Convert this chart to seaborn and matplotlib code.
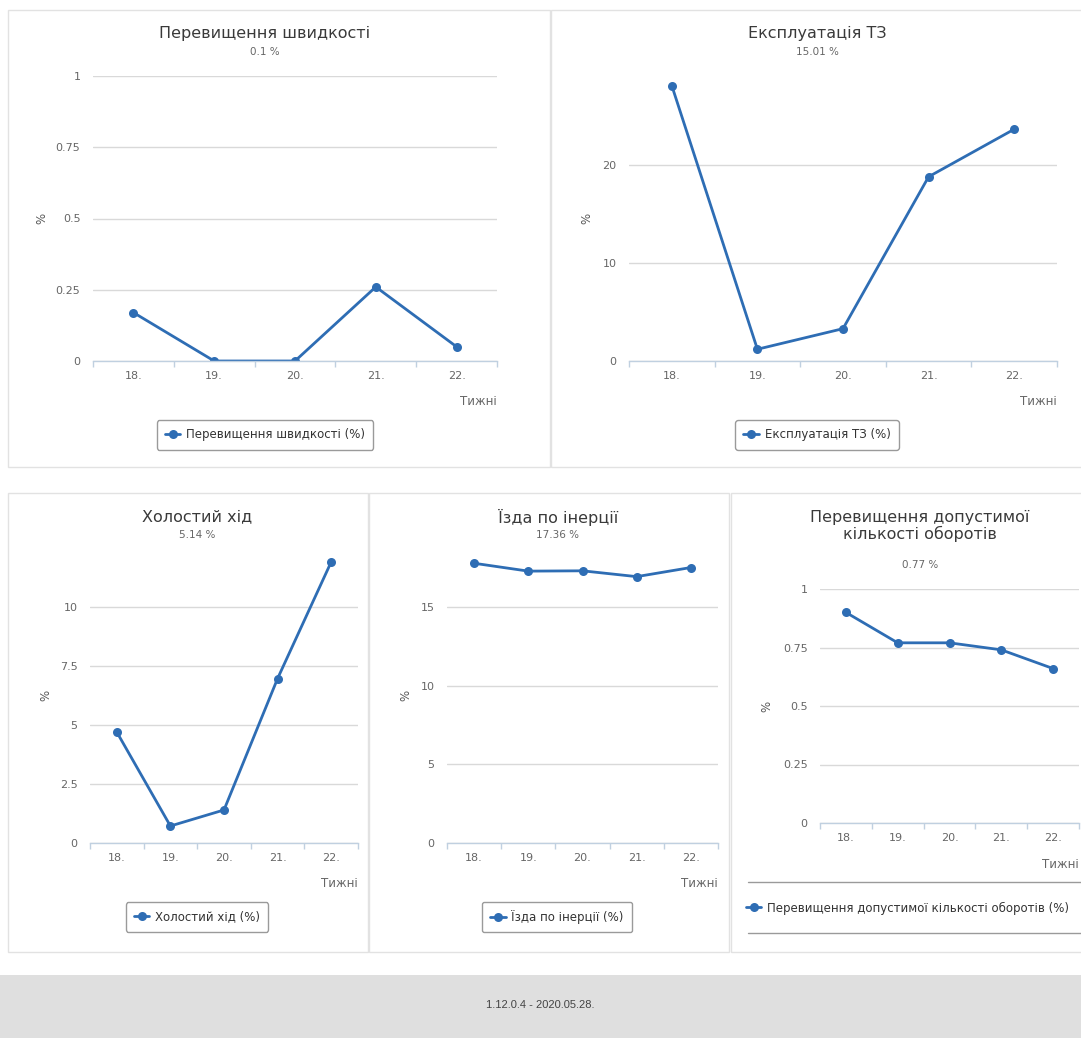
import matplotlib
matplotlib.use("Agg")
import matplotlib.pyplot as plt
import seaborn as sns
from matplotlib.patches import Rectangle
from matplotlib.lines import Line2D
from matplotlib.ticker import FixedLocator

# ---- data -------------------------------------------------------------
weeks = [18, 19, 20, 21, 22]
week_labels = ["18.", "19.", "20.", "21.", "22."]

speeding = [0.17, 0.0, 0.0, 0.26, 0.05]
vehicle_use = [28.1, 1.2, 3.3, 18.8, 23.65]
idling = [4.7, 0.72, 1.4, 6.97, 11.91]
coasting = [17.78, 17.28, 17.30, 16.93, 17.51]
rpm_excess = [0.90, 0.77, 0.77, 0.74, 0.66]

titles = [
    "Перевищення швидкості",
    "Експлуатація ТЗ",
    "Холостий хід",
    "Їзда по інерції",
    "Перевищення допустимої\nкількості оборотів",
]
subtitles = ["0.1 %", "15.01 %", "5.14 %", "17.36 %", "0.77 %"]
series_labels = [
    "Перевищення швидкості (%)",
    "Експлуатація ТЗ (%)",
    "Холостий хід (%)",
    "Їзда по інерції (%)",
    "Перевищення допустимої кількості оборотів (%)",
]
y_ticks = [
    [0, 0.25, 0.5, 0.75, 1],
    [0, 10, 20],
    [0, 2.5, 5, 7.5, 10],
    [0, 5, 10, 15],
    [0, 0.25, 0.5, 0.75, 1],
]
y_label = "%"
x_label = "Тижні"
footer_text = "1.12.0.4 - 2020.05.28."

# ---- style --------------------------------------------------------------
sns.set_theme(style="white")
plt.rcParams["font.family"] = ["DejaVu Sans"]

LINE = "#2e6db4"
GRID = "#d9d9d9"
AXIS = "#c0d0e0"
TICK_TXT = "#666666"
TITLE_TXT = "#3a3a3a"
BORDER = "#e2e2e2"

W, H = 1081, 1038
fig = plt.figure(figsize=(W / 100, H / 100), dpi=100)
fig.patch.set_facecolor("white")


def fx(px):
    return px / W


def fy(py):
    return 1 - py / H


# panel frames
for (l, t, r, b) in [(8, 10, 550, 467), (551, 10, 1095, 467),
                     (8, 493, 368, 952), (369, 493, 729, 952),
                     (731, 493, 1095, 952)]:
    fig.add_artist(Rectangle((fx(l), fy(b)), (r - l) / W, (b - t) / H,
                             transform=fig.transFigure, fill=False,
                             edgecolor=BORDER, linewidth=1))

# footer band
fig.add_artist(Rectangle((0, 0), 1, (H - 975) / H, transform=fig.transFigure,
                         facecolor="#dfdfdf", edgecolor="none"))
fig.text(fx(540), fy(1005), footer_text, ha="center", va="center",
         fontsize=8, color="#444444", family="Liberation Sans")

# layout of each chart: plot box (l, t, r, b), y top, title centre,
# title y, subtitle y, y-label x, legend centre
layout = [
    dict(box=(93, 76, 497, 361), ytop=1.0, tx=265, ty=33, sy=52, lx=48,
         leg=(265, 435), xl_y=395),
    dict(box=(629, 76, 1057, 361), ytop=29.08, tx=817, ty=33, sy=52, lx=593,
         leg=(817, 435), xl_y=395),
    dict(box=(90, 548, 358, 843), ytop=12.5, tx=197, ty=517, sy=535, lx=52,
         leg=(197, 917), xl_y=877),
    dict(box=(447, 548, 718, 843), ytop=18.75, tx=558, ty=517, sy=535, lx=412,
         leg=(557, 917), xl_y=877),
    dict(box=(820, 589, 1079, 823), ytop=1.0, tx=920, ty=526, sy=565, lx=773,
         leg=None, xl_y=858),
]
series = [speeding, vehicle_use, idling, coasting, rpm_excess]

for i, (vals, lay) in enumerate(zip(series, layout)):
    l, t, r, b = lay["box"]
    ax = fig.add_axes([fx(l), fy(b), (r - l) / W, (b - t) / H])
    ax.set_facecolor("none")
    sns.lineplot(x=weeks, y=vals, ax=ax, color=LINE, linewidth=2,
                 marker="o", markersize=6.5, markeredgewidth=0,
                 label=series_labels[i])

    ax.set_xlim(weeks[0] - 0.5, weeks[-1] + 0.5)
    ax.set_ylim(0, lay["ytop"])
    ax.set_xticks(weeks)
    ax.set_xticklabels(week_labels)
    ax.xaxis.set_minor_locator(FixedLocator([w - 0.5 for w in weeks] + [weeks[-1] + 0.5]))
    ax.set_yticks(y_ticks[i])
    ax.set_yticklabels([f"{v:g}" for v in y_ticks[i]])
    ax.grid(axis="y", color=GRID, linewidth=1)
    ax.grid(axis="x", visible=False)
    ax.set_axisbelow(True)
    for s in ("top", "right", "left"):
        ax.spines[s].set_visible(False)
    ax.spines["bottom"].set_color(AXIS)
    ax.spines["bottom"].set_linewidth(1)
    ax.tick_params(axis="x", which="major", length=0, pad=7, labelsize=8,
                   labelcolor=TICK_TXT)
    ax.tick_params(axis="x", which="minor", length=4, width=1, color=AXIS,
                   direction="out", bottom=True)
    ax.tick_params(axis="y", length=0, pad=9, labelsize=8, labelcolor=TICK_TXT)

    ax.set_ylabel(y_label, fontsize=8.5, color="#555555", rotation=90)
    ax.yaxis.set_label_coords((lay["lx"] - l) / (r - l), 0.5)
    ax.set_xlabel(x_label, fontsize=8.5, color=TICK_TXT, loc="right")
    ax.xaxis.set_label_coords(1.0, (b - lay["xl_y"]) / (b - t))

    fig.text(fx(lay["tx"]), fy(lay["ty"]), titles[i], ha="center", va="center",
             fontsize=11.5, color=TITLE_TXT, linespacing=1.1)
    fig.text(fx(lay["tx"]), fy(lay["sy"]), subtitles[i], ha="center",
             va="center", fontsize=7.5, color=TICK_TXT)

    if lay["leg"] is not None:
        cx, cy = lay["leg"]
        leg = ax.legend(loc="center", bbox_to_anchor=(fx(cx), fy(cy)),
                        bbox_transform=fig.transFigure, frameon=True,
                        fancybox=True, edgecolor="#9a9a9a", fontsize=8.5,
                        handlelength=1.3, handletextpad=0.5, borderpad=0.7,
                        framealpha=1)
        leg.get_frame().set_linewidth(1)
    else:
        leg = ax.legend(loc="center left", bbox_to_anchor=(fx(746), fy(908)),
                        bbox_transform=fig.transFigure, frameon=False,
                        fontsize=8.5, handlelength=1.3, handletextpad=0.5,
                        borderpad=0, borderaxespad=0)
        for yy in (882, 933):
            fig.add_artist(Line2D([fx(748), 1.0], [fy(yy), fy(yy)],
                                  transform=fig.transFigure,
                                  color="#9a9a9a", linewidth=1))
    for txt in leg.get_texts():
        txt.set_color("#333333")

fig.savefig("out.png", dpi=100)
